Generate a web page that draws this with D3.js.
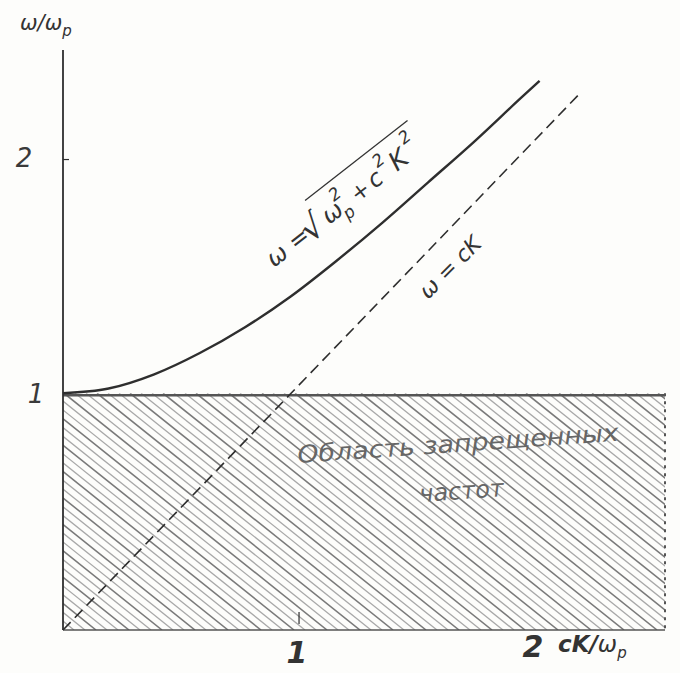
<!DOCTYPE html>
<html>
<head>
<meta charset="utf-8">
<script src="https://cdn.jsdelivr.net/npm/d3@7"></script>
<style>
  body { margin: 0; background: #fdfdfb; }
  svg { display: block; }
</style>
</head>
<body>
<svg id="chart" width="680" height="673"></svg>
<script>
// values (k in cK/ωp, w in ω/ωp)
const curveK = [0, 0.2, 0.4, 0.6, 0.8, 1.0, 1.2, 1.4, 1.6, 1.8, 2.0, 2.09];
const curveW = [1.00, 1.02, 1.08, 1.17, 1.28, 1.41, 1.56, 1.72, 1.89, 2.06, 2.24, 2.32];
const lightK = [0, 2.26];
const lightW = [0, 2.26];
const bandK = [0, 2.64];   // forbidden band, horizontal extent
const bandW = [0, 1];      // forbidden band, 0 .. ωp
const xTicks = [1, 2];
const yTicks = [1, 2];

const svg = d3.select("#chart");
const ink = "#2e2e2e";
const font = "'DejaVu Sans', sans-serif";

const x = d3.scaleLinear().domain([0, 2.64]).range([63, 665]);
const y = d3.scaleLinear().domain([0, 2.45]).range([630, 50]);

// clip for the hatched band
const defs = svg.append("defs");
defs.append("clipPath").attr("id", "band")
  .append("rect")
  .attr("x", x(bandK[0])).attr("y", y(bandW[1]))
  .attr("width", x(bandK[1]) - x(bandK[0]))
  .attr("height", y(bandW[0]) - y(bandW[1]));

// hatching: diagonal strokes running down to the right
const bx0 = x(bandK[0]), bx1 = x(bandK[1]);
const by0 = y(bandW[1]), by1 = y(bandW[0]);
const step = 11;
const slope = 0.8;
const run = (by1 - by0) / slope;
const offsets = d3.range(bx0 - run, bx1, step);
svg.append("g").attr("clip-path", "url(#band)")
  .selectAll("line")
  .data(offsets)
  .join("line")
  .attr("x1", d => d).attr("y1", by0)
  .attr("x2", d => d + run).attr("y2", by1)
  .attr("stroke", (d, i) => (i % 3 === 0 ? "#7a7a7a" : "#a8a8a8"))
  .attr("stroke-width", (d, i) => (i % 3 === 0 ? 1.6 : 1.3));

// top edge of band
svg.append("line")
  .attr("x1", bx0).attr("x2", bx1)
  .attr("y1", by0 + 2).attr("y2", by0 + 2)
  .attr("stroke", "#555").attr("stroke-width", 2.6);

// right edge of band, dotted
svg.append("line")
  .attr("x1", bx1).attr("x2", bx1)
  .attr("y1", by0).attr("y2", by1)
  .attr("stroke", "#555").attr("stroke-width", 2)
  .attr("stroke-dasharray", "3 5");

// axes
svg.append("line")
  .attr("x1", x(0)).attr("x2", x(0))
  .attr("y1", y(0)).attr("y2", y(2.45))
  .attr("stroke", ink).attr("stroke-width", 1.8);
svg.append("line")
  .attr("x1", x(0)).attr("x2", x(2.64))
  .attr("y1", y(0)).attr("y2", y(0))
  .attr("stroke", "#555").attr("stroke-width", 1.4);

// tick marks
svg.selectAll(".xt").data(xTicks.slice(0, 1)).join("line")
  .attr("x1", d => x(d) + 8).attr("x2", d => x(d) + 8)
  .attr("y1", y(0) - 18).attr("y2", y(0) - 6)
  .attr("stroke", ink).attr("stroke-width", 1.2);
svg.selectAll(".yt").data(yTicks.slice(1)).join("line")
  .attr("x1", x(0)).attr("x2", x(0) + 6)
  .attr("y1", d => y(d) + 3).attr("y2", d => y(d) + 3)
  .attr("stroke", ink).attr("stroke-width", 1.2);

// ω = cK (dashed)
const line = d3.line().x(d => x(d[0])).y(d => y(d[1]));
svg.append("path")
  .datum(d3.zip(lightK, lightW))
  .attr("d", line)
  .attr("fill", "none")
  .attr("stroke", ink).attr("stroke-width", 1.6)
  .attr("stroke-dasharray", "11 6");

// ω = sqrt(ωp² + c²K²)
svg.append("path")
  .datum(d3.zip(curveK, curveW))
  .attr("d", line.curve(d3.curveMonotoneX))
  .attr("fill", "none")
  .attr("stroke", ink).attr("stroke-width", 2.4);

// axis titles and tick labels
svg.append("text")
  .attr("x", 20).attr("y", 30)
  .attr("font-family", font).attr("font-style", "italic")
  .attr("font-size", 21).attr("fill", "#333")
  .html("ω/ω<tspan font-size='15' dy='6'>p</tspan>");

svg.selectAll(".ytl").data(yTicks).join("text")
  .attr("x", d => (d === 1 ? 36 : 24))
  .attr("y", d => y(d) + 10)
  .attr("text-anchor", "middle")
  .attr("font-family", font).attr("font-style", "italic")
  .attr("font-size", 26).attr("fill", "#3a3a3a")
  .text(d => d);

svg.append("text")
  .attr("x", x(xTicks[0]) + 6).attr("y", 663)
  .attr("text-anchor", "middle")
  .attr("font-family", font).attr("font-style", "italic").attr("font-weight", "bold")
  .attr("font-size", 30).attr("fill", "#333")
  .text(xTicks[0]);
svg.append("text")
  .attr("x", x(xTicks[1]) + 14).attr("y", 657)
  .attr("text-anchor", "middle")
  .attr("font-family", font).attr("font-style", "italic").attr("font-weight", "bold")
  .attr("font-size", 30).attr("fill", "#333")
  .text(xTicks[1]);
svg.append("text")
  .attr("x", 558).attr("y", 652)
  .attr("font-family", font).attr("font-style", "italic").attr("font-weight", "bold")
  .attr("font-size", 23).attr("fill", "#333")
  .html("cK/<tspan font-weight='normal'>ω</tspan><tspan font-weight='normal' font-size='15' dy='6'>p</tspan>");

// curve label, laid along the curve
const g1 = svg.append("g")
  .attr("transform", "translate(274,268) rotate(-38)")
  .attr("font-family", font).attr("font-style", "italic").attr("fill", "#333");
const parts = [
  { t: "ω =", dx: 0, dy: 0, s: 24 },
  { t: "√", dx: 44, dy: 3, s: 34 },
  { t: "ω", dx: 70, dy: 0, s: 24 },
  { t: "p", dx: 88, dy: 8, s: 17 },
  { t: "2", dx: 88, dy: -15, s: 17 },
  { t: "+", dx: 106, dy: 0, s: 22 },
  { t: "c", dx: 128, dy: 0, s: 24 },
  { t: "2", dx: 143, dy: -15, s: 17 },
  { t: "K", dx: 156, dy: 0, s: 26 },
  { t: "2", dx: 178, dy: -17, s: 17 }
];
g1.selectAll("text").data(parts).join("text")
  .attr("x", d => d.dx).attr("y", d => d.dy)
  .attr("font-size", d => d.s)
  .text(d => d.t);
g1.append("line")
  .attr("x1", 66).attr("x2", 196)
  .attr("y1", -34).attr("y2", -34)
  .attr("stroke", "#333").attr("stroke-width", 1.3);

// light line label
svg.append("text")
  .attr("transform", "translate(428,300) rotate(-45)")
  .attr("font-family", font).attr("font-style", "italic")
  .attr("font-size", 22).attr("fill", "#333")
  .text("ω = cK");

// forbidden band label
svg.append("text")
  .attr("transform", "translate(298,463) rotate(-4)")
  .attr("font-family", font).attr("font-style", "italic")
  .attr("font-size", 24).attr("fill", "#666")
  .attr("textLength", 322).attr("lengthAdjust", "spacingAndGlyphs")
  .text("Область запрещенных");
svg.append("text")
  .attr("transform", "translate(462,499) rotate(-4)")
  .attr("text-anchor", "middle")
  .attr("font-family", font).attr("font-style", "italic")
  .attr("font-size", 24).attr("fill", "#666")
  .text("частот");
</script>
</body>
</html>
